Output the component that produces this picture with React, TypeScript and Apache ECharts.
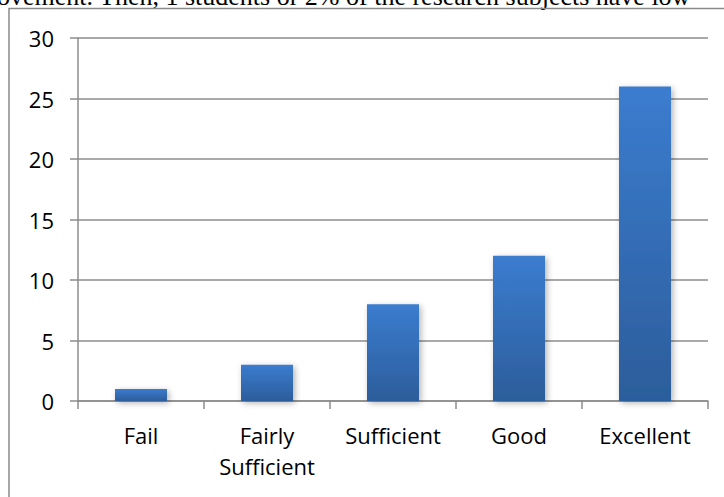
import React, { useEffect, useRef } from "react";
import * as echarts from "echarts";

const categories = ["Fail", "Fairly\nSufficient", "Sufficient", "Good", "Excellent"];
const values = [1, 3, 8, 12, 26];
const yTicks = { min: 0, max: 30, interval: 5 };
const topText = "ovement. Then, 1 students or 2% of the research subjects have low";

export default function App() {
  const ref = useRef<HTMLDivElement>(null);
  useEffect(() => {
    if (!ref.current) return;
    const chart = echarts.init(ref.current, null, { renderer: "svg" });
    const font = "'Open Sans', sans-serif";
    const gray = "#8c8c8c";
    chart.setOption({
      animation: false,
      backgroundColor: "#ffffff",
      graphic: [
        {
          type: "text",
          left: -3,
          top: -17,
          style: {
            text: topText,
            font: "26px 'Liberation Serif', 'Times New Roman', serif",
            fill: "#000",
          },
        },
        {
          type: "polyline",
          shape: { points: [[9, 497], [9, 8.5], [724, 8.5]] },
          style: { stroke: "#8a8a8a", lineWidth: 1.5, fill: "none" },
          silent: true,
        },
      ],
      grid: { left: 78, right: 16, top: 38, bottom: 96, containLabel: false, show: false },
      xAxis: {
        type: "category",
        data: categories,
        splitLine: { show: false },
        axisLine: { show: true, lineStyle: { color: gray, width: 1.5 } },
        axisTick: { show: true, length: 8, interval: 0, alignWithLabel: false, lineStyle: { color: gray, width: 1.5 } },
        axisLabel: {
          interval: 0,
          color: "#000",
          fontFamily: font,
          fontSize: 22,
          lineHeight: 31,
          margin: 18,
        },
      },
      yAxis: {
        type: "value",
        min: yTicks.min,
        max: yTicks.max,
        interval: yTicks.interval,
        axisLine: { show: true, lineStyle: { color: gray, width: 1.5 } },
        axisTick: { show: true, length: 8, lineStyle: { color: gray, width: 1.5 } },
        splitLine: { show: true, lineStyle: { color: gray, width: 1.5 } },
        axisLabel: {
          color: "#000",
          fontFamily: font,
          fontSize: 22,
          margin: 24,
        },
      },
      series: [
        {
          type: "bar",
          data: values,
          barWidth: 52,
          itemStyle: {
            color: new echarts.graphic.LinearGradient(0, 0, 0, 1, [
              { offset: 0, color: "#3b7ccf" },
              { offset: 1, color: "#2c5d9b" },
            ]),
            shadowBlur: 6,
            shadowColor: "rgba(0,0,0,0.3)",
            shadowOffsetX: 2,
            shadowOffsetY: 2,
          },
        },
      ],
    });
    return () => chart.dispose();
  }, []);
  return (
    <div
      ref={ref}
      style={{ position: "fixed", left: 0, top: 0, width: 724, height: 497 }}
    />
  );
}
